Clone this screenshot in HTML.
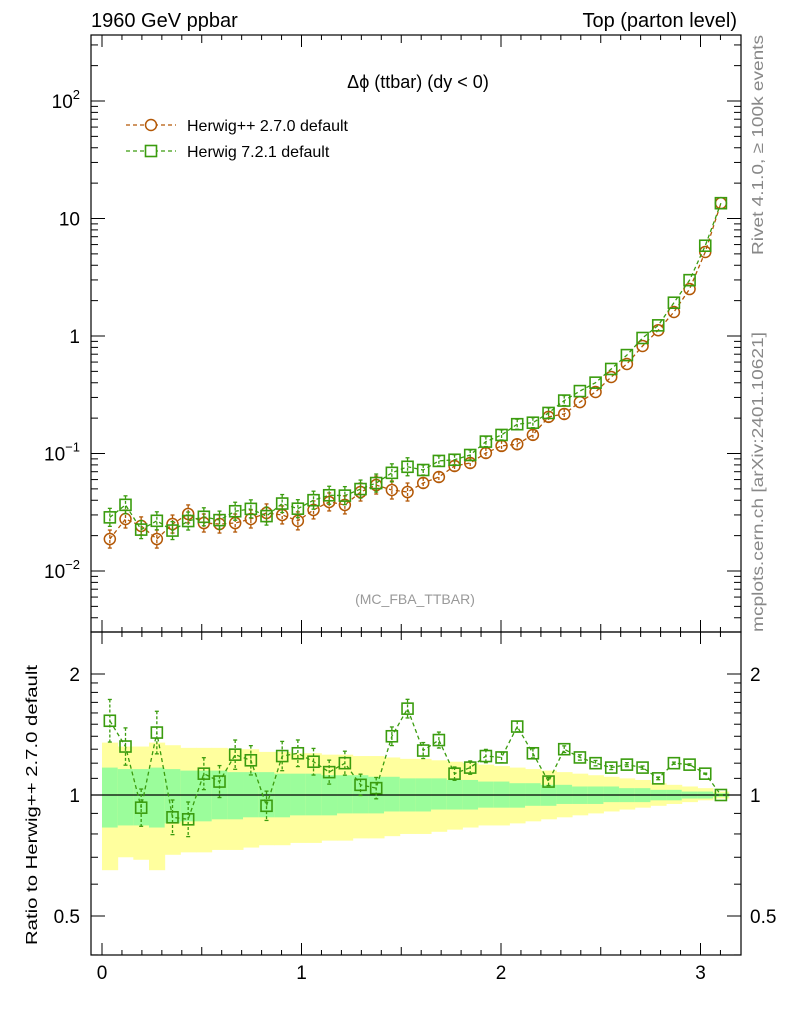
<!DOCTYPE html>
<html><head><meta charset="utf-8"><style>
html,body{margin:0;padding:0;background:#fff;}
svg{display:block;font-family:"Liberation Sans",sans-serif;}
</style></head><body>
<svg id="c" width="786" height="1024" viewBox="0 0 786 1024"></svg>
<script>
const herwig27 = [0.0187,0.0277,0.0242,0.0187,0.0251,0.0306,0.0256,0.0251,0.0256,0.0277,0.0312,0.0300,0.0267,0.0331,0.0387,0.0365,0.0470,0.0539,0.0489,0.0470,0.0561,0.0631,0.0783,0.0830,0.101,0.116,0.120,0.144,0.205,0.217,0.274,0.334,0.448,0.578,0.822,1.12,1.60,2.51,5.19,13.5];
const ratio721 = [1.53,1.32,0.93,1.43,0.88,0.87,1.13,1.08,1.26,1.22,0.94,1.25,1.27,1.21,1.14,1.20,1.06,1.04,1.40,1.64,1.29,1.37,1.13,1.17,1.25,1.24,1.48,1.27,1.08,1.30,1.24,1.20,1.17,1.19,1.17,1.10,1.20,1.19,1.13,1.00];
const ratioErr = [0.16,0.14,0.14,0.16,0.13,0.13,0.12,0.12,0.11,0.11,0.11,0.11,0.10,0.10,0.09,0.09,0.08,0.08,0.07,0.07,0.06,0.06,0.05,0.05,0.05,0.04,0.04,0.035,0.03,0.025,0.02,0.02,0.015,0.015,0.012,0.01,0.008,0.006,0.004,0.002];
const yellowHi = [1.35,1.32,1.32,1.35,1.33,1.31,1.31,1.31,1.30,1.30,1.28,1.28,1.27,1.27,1.26,1.26,1.25,1.25,1.24,1.23,1.23,1.22,1.21,1.20,1.19,1.18,1.17,1.16,1.15,1.14,1.13,1.12,1.11,1.10,1.09,1.07,1.06,1.05,1.04,1.02];
const yellowLo = [0.65,0.70,0.69,0.65,0.71,0.72,0.72,0.73,0.73,0.74,0.75,0.75,0.76,0.76,0.77,0.77,0.78,0.78,0.79,0.80,0.80,0.81,0.82,0.83,0.84,0.84,0.85,0.86,0.87,0.88,0.89,0.90,0.91,0.92,0.93,0.94,0.95,0.96,0.97,0.98];
const greenHi = [1.17,1.16,1.16,1.17,1.16,1.15,1.15,1.15,1.14,1.14,1.14,1.13,1.13,1.13,1.12,1.12,1.12,1.11,1.11,1.10,1.10,1.10,1.09,1.09,1.08,1.08,1.07,1.07,1.06,1.06,1.05,1.05,1.05,1.04,1.04,1.03,1.03,1.02,1.02,1.01];
const greenLo = [0.83,0.84,0.84,0.83,0.85,0.86,0.86,0.87,0.87,0.88,0.88,0.88,0.89,0.89,0.89,0.90,0.90,0.90,0.91,0.91,0.91,0.92,0.92,0.92,0.93,0.93,0.93,0.94,0.94,0.95,0.95,0.95,0.96,0.96,0.96,0.97,0.97,0.98,0.98,0.99];
const xTicks = [0,1,2,3];
const yTicks = [0.01,0.1,1,10,100];
const rTicks = [0.5,1,2];

const NS="http://www.w3.org/2000/svg";
const svg=document.getElementById('c');
function el(t,a,p){const e=document.createElementNS(NS,t);for(const k in a)e.setAttribute(k,a[k]);(p||svg).appendChild(e);return e;}
const L=91,R=741,T=35,MB=632,RB=955;
const NB=herwig27.length, BW=Math.PI/NB;
function X(v){return 102+199.5*v;}
function Y(v){return 101+(2-Math.log10(v))*117.5;}
function RY(v){return 795-Math.log2(v)*121;}

const bands=el('g',{});


for(let i=0;i<NB;i++){
  const x0=X(i*BW),x1=X((i+1)*BW);
  const r1=el('rect',{x:x0,y:RY(yellowHi[i]),width:x1-x0+0.5,height:RY(yellowLo[i])-RY(yellowHi[i]),fill:'#ffff9e'},bands);
  
  
  const r2=el('rect',{x:x0,y:RY(greenHi[i]),width:x1-x0+0.5,height:RY(greenLo[i])-RY(greenHi[i]),fill:'#9bfd9b'},bands);
  
  
}
el('line',{x1:L,x2:R,y1:RY(1),y2:RY(1),stroke:'#000','stroke-width':1.2});

const f1=el('rect',{x:L,y:T,width:R-L,height:MB-T,fill:'none',stroke:'#000','stroke-width':1.2});

const f2=el('rect',{x:L,y:MB,width:R-L,height:RB-MB,fill:'none',stroke:'#000','stroke-width':1.2});


for(let v=0;v<=3.2;v+=0.1){
  const vv=Math.round(v*10)/10;const maj=Math.abs(vv-Math.round(vv))<1e-6;const half=Math.abs(vv*2-Math.round(vv*2))<1e-6;
  const len=maj?12:(half?8:5);
  for(const [t,b] of [[T,MB],[MB,RB]]){
    el('line',{x1:X(vv),x2:X(vv),y1:b,y2:b-len,stroke:'#000'});
    el('line',{x1:X(vv),x2:X(vv),y1:t,y2:t+len,stroke:'#000'});
  }
}
xTicks.forEach(v=>{const t=el('text',{x:X(v),y:979,'font-size':19,'text-anchor':'middle'});t.textContent=v;
});

for(let d=-3;d<=2;d++){for(let m=1;m<10;m++){const v=m*Math.pow(10,d);const y=Y(v);if(y<T||y>MB)continue;
  const len=m==1?14:7;el('line',{x1:L,x2:L+len,y1:y,y2:y,stroke:'#000'});el('line',{x1:R,x2:R-len,y1:y,y2:y,stroke:'#000'});}}
yTicks.forEach(v=>{const y=Y(v);const t=el('text',{x:80,y:y+7,'font-size':19,'text-anchor':'end'});

if(v==1)t.textContent='1';else if(v==10)t.textContent='10';else{const e=Math.round(Math.log10(v));t.textContent='10';const s=el('tspan',{dy:-9,'font-size':13},t);s.textContent=e<0?'\u2212'+(-e):e;}});

[0.4,0.5,0.6,0.7,0.8,0.9,1,1.1,1.2,1.3,1.4,1.5,1.6,1.7,1.8,1.9,2].forEach(v=>{const y=RY(v);const maj=[0.5,1,2].includes(v);const len=maj?14:7;
el('line',{x1:L,x2:L+len,y1:y,y2:y,stroke:'#000'});el('line',{x1:R,x2:R-len,y1:y,y2:y,stroke:'#000'});});
rTicks.forEach(v=>{const y=RY(v)+7;const a=el('text',{x:80,y:y,'font-size':19,'text-anchor':'end'});a.textContent=v;

const b=el('text',{x:750,y:y,'font-size':19});b.textContent=v;});

const OR='#b35806', GR='#3a9c0e';
function series(vals,color,marker,yf,errs,name){
  const g=el('g',{});
  const pts=vals.map((v,i)=>[X((i+0.5)*BW),yf(v)]);
  el('polyline',{points:pts.map(p=>p.join(',')).join(' '),fill:'none',stroke:color,'stroke-width':1.3,'stroke-dasharray':'4,3'},g);
  pts.forEach((p,i)=>{
    const e=errs[i];
    if(e>0){el('line',{x1:p[0],x2:p[0],y1:p[1]-e,y2:p[1]+e,stroke:color,'stroke-width':1.3,'stroke-dasharray':'3,2'},g);
      el('line',{x1:p[0]-2,x2:p[0]+2,y1:p[1]-e,y2:p[1]-e,stroke:color,'stroke-width':1.3},g);
      el('line',{x1:p[0]-2,x2:p[0]+2,y1:p[1]+e,y2:p[1]+e,stroke:color,'stroke-width':1.3},g);}
    let m;
    if(marker=='c')m=el('circle',{cx:p[0],cy:p[1],r:5.5,fill:'none',stroke:color,'stroke-width':1.5},g);
    else m=el('rect',{x:p[0]-5.5,y:p[1]-5.5,width:11,height:11,fill:'none',stroke:color,'stroke-width':1.6},g);
    
  });
}
const mainErr=herwig27.map((v,i)=>i<20?9:(i<30?5:0));
const herwig72=herwig27.map((v,i)=>v*ratio721[i]);
series(herwig27,OR,'c',Y,mainErr,'series-herwig-2-7-0');
series(herwig72,GR,'s',Y,mainErr,'series-herwig-7-2-1');
series(ratio721,GR,'s',RY,ratioErr.map((e,i)=>e*121*1.1),'ratio-herwig-7-2-1');

function txt(x,y,s,opts,name){const t=el('text',Object.assign({x:x,y:y,'font-size':19},opts||{}));t.textContent=s;return t;}
txt(91,27,'1960 GeV ppbar',{'font-size':20},'header-left');
txt(737,27,'Top (parton level)',{'font-size':20,'text-anchor':'end'},'header-right');
txt(418,88,'\u0394\u03d5 (ttbar) (dy < 0)',{'font-size':18,'text-anchor':'middle'},'plot-title');
txt(415,604,'(MC_FBA_TTBAR)',{'font-size':14,'text-anchor':'middle',fill:'#999'},'analysis-label');
const lg=el('g',{});
el('line',{x1:126,x2:176,y1:125,y2:125,stroke:OR,'stroke-width':1.3,'stroke-dasharray':'4,3'},lg);
el('circle',{cx:151,cy:125,r:5.5,fill:'#fff',stroke:OR,'stroke-width':1.5},lg);
el('line',{x1:126,x2:176,y1:151,y2:151,stroke:GR,'stroke-width':1.3,'stroke-dasharray':'4,3'},lg);
el('rect',{x:145.5,y:145.5,width:11,height:11,fill:'#fff',stroke:GR,'stroke-width':1.6},lg);
txt(187,131,'Herwig++ 2.7.0 default',{'font-size':16},'legend-entry-herwig-2-7-0');
txt(187,157,'Herwig 7.2.1 default',{'font-size':16},'legend-entry-herwig-7-2-1');
txt(0,0,'Rivet 4.1.0, \u2265 100k events',{'font-size':16,fill:'#888','text-anchor':'middle',textLength:220,lengthAdjust:'spacingAndGlyphs',transform:'translate(763,145) rotate(-90)'},'rivet-label');
txt(0,0,'mcplots.cern.ch [arXiv:2401.10621]',{'font-size':16,fill:'#888','text-anchor':'middle',textLength:300,lengthAdjust:'spacingAndGlyphs',transform:'translate(763,482) rotate(-90)'},'mcplots-label');
txt(0,0,'Ratio to Herwig++ 2.7.0 default',{'font-size':16,'text-anchor':'middle',textLength:280,lengthAdjust:'spacingAndGlyphs',transform:'translate(37,805) rotate(-90)'},'ratio-y-axis-title');
</script>
</body></html>
